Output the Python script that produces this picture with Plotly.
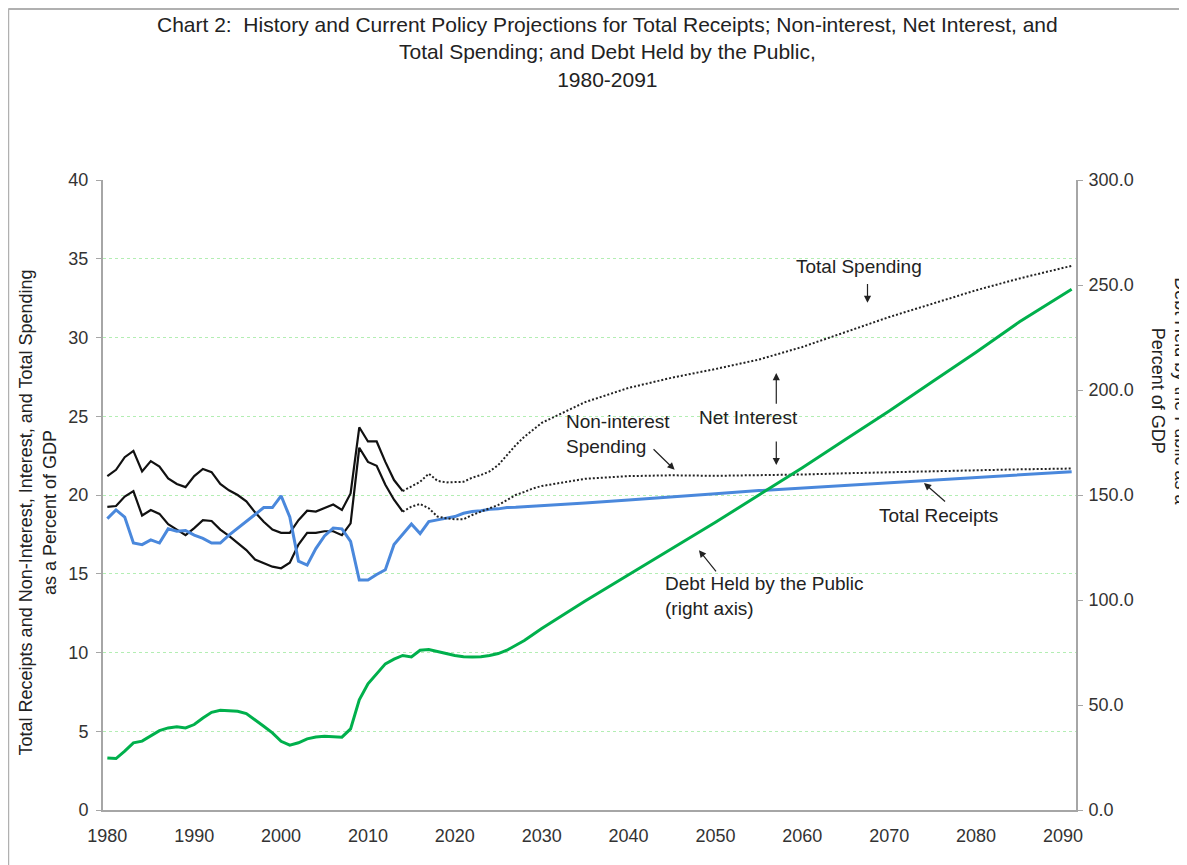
import plotly.graph_objects as go

years_hist = list(range(1980, 2015))
proj_years = list(range(2014, 2031)) + [2035, 2040, 2045, 2050, 2055, 2060, 2065, 2070, 2075, 2080, 2085, 2091]

total_spending_hist = [21.2, 21.6, 22.4, 22.8, 21.5, 22.15, 21.8, 21.05, 20.7, 20.5,
                       21.2, 21.65, 21.45, 20.7, 20.3, 20.0, 19.6, 18.9, 18.3, 17.8,
                       17.6, 17.6, 18.4, 19.0, 18.95, 19.15, 19.4, 19.05, 20.1, 24.3,
                       23.4, 23.4, 22.1, 20.95, 20.25]
noninterest_hist = [19.25, 19.3, 19.9, 20.25, 18.7, 19.05, 18.8, 18.15, 17.8, 17.45,
                    17.9, 18.4, 18.35, 17.8, 17.4, 16.95, 16.5, 15.9, 15.7, 15.45,
                    15.35, 15.7, 16.85, 17.6, 17.6, 17.7, 17.7, 17.45, 18.2, 23.0,
                    22.1, 21.85, 20.65, 19.7, 18.95]
receipts_hist = [18.5, 19.05, 18.6, 16.95, 16.85, 17.15, 16.95, 17.85, 17.7, 17.75,
                 17.45, 17.25, 16.95, 16.95, 17.45, 17.9, 18.3, 18.75, 19.2, 19.2,
                 19.95, 18.6, 15.8, 15.55, 16.6, 17.4, 17.9, 17.85, 17.05, 14.6,
                 14.6, 14.95, 15.25, 16.85, 17.5]
debt_hist = [24.8, 24.5, 28.0, 32.0, 32.8, 35.1, 37.8, 39.1, 39.6, 39.1,
             40.7, 43.8, 46.5, 47.5, 47.3, 47.0, 45.9, 43.0, 39.9, 36.7,
             32.7, 30.9, 32.0, 33.9, 34.8, 35.1, 34.8, 34.7, 38.6, 52.5,
             60.1, 64.7, 69.6, 71.8, 73.6]

# projections (first value is 2014, the last historical year)
total_spending_proj = [20.25, 20.57, 20.84, 21.35, 20.9, 20.8, 20.8, 20.84, 21.1, 21.27,
                       21.5, 21.9, 22.53, 23.16, 23.7, 24.16, 24.58,
                       25.9, 26.8, 27.45, 28.0, 28.6, 29.4, 30.35, 31.3, 32.15, 33.0, 33.75, 34.55]
noninterest_proj = [18.95, 19.26, 19.43, 19.16, 18.63, 18.52, 18.46, 18.46, 18.73, 18.95,
                    19.16, 19.37, 19.68, 20.0, 20.2, 20.42, 20.57,
                    21.03, 21.2, 21.25, 21.22, 21.25, 21.3, 21.38, 21.45, 21.52, 21.58, 21.63, 21.68]
receipts_proj = [17.5, 18.16, 17.55, 18.31, 18.42, 18.52, 18.63, 18.84, 18.95, 19.0,
                 19.09, 19.12, 19.2, 19.22, 19.25, 19.28, 19.3,
                 19.5, 19.68, 19.9, 20.08, 20.28, 20.45, 20.63, 20.8, 20.98, 21.15, 21.3, 21.48]
debt_proj = [73.6, 72.9, 76.1, 76.4, 75.6, 74.5, 73.6, 73.0, 72.8, 73.0,
             73.6, 74.5, 76.1, 78.3, 80.7, 83.6, 86.4,
             99.5, 112.0, 124.5, 137.0, 150.0, 163.0, 176.5, 190.0, 204.0, 218.0, 232.5, 248.0]

x_ticks = list(range(1980, 2091, 10))

FONT = "Liberation Sans, Arial, sans-serif"
GRAY = "#a6a6a6"
TXT = "#222222"

fig = go.Figure()

fig.add_trace(go.Scatter(x=years_hist, y=total_spending_hist, mode="lines",
                         line=dict(color="#111111", width=2.2), name="Total Spending"))
fig.add_trace(go.Scatter(x=years_hist, y=noninterest_hist, mode="lines",
                         line=dict(color="#111111", width=2.2), name="Non-interest Spending"))
fig.add_trace(go.Scatter(x=years_hist + proj_years[1:], y=receipts_hist + receipts_proj[1:], mode="lines",
                         line=dict(color="#4a88dc", width=3), name="Total Receipts"))
fig.add_trace(go.Scatter(x=proj_years, y=total_spending_proj, mode="lines",
                         line=dict(color="#222222", width=2, dash="2px,2px"), name="Total Spending (proj)"))
fig.add_trace(go.Scatter(x=proj_years, y=noninterest_proj, mode="lines",
                         line=dict(color="#222222", width=2, dash="2px,2px"), name="Non-interest (proj)"))
fig.add_trace(go.Scatter(x=years_hist + proj_years[1:], y=debt_hist + debt_proj[1:], mode="lines",
                         line=dict(color="#00b04c", width=3), name="Debt Held by the Public", yaxis="y2"))

annotations = []
# labels
labels = [
    ("Total Spending", 2066.5, 34.5, "center"),
    ("Net Interest", 2053.8, 24.9, "center"),
    ("Non-interest<br>Spending", 2032.6, 23.87, "left"),
    ("Total Receipts", 2075.7, 18.73, "center"),
    ("Debt Held by the Public<br>(right axis)", 2044.0, 13.56, "left"),
]
for txt, x, y, anc in labels:
    annotations.append(dict(text=txt, x=x, y=y, xref="x", yref="y", showarrow=False,
                            xanchor=anc, yanchor="middle", align="left",
                            font=dict(family=FONT, size=19, color=TXT)))
# arrows: (tail x, tail y, head x, head y)
arrows = [
    (2067.5, 33.5, 2067.5, 32.2),
    (2057.0, 25.7, 2057.0, 27.75),
    (2057.0, 23.5, 2057.0, 21.9),
    (2042.7, 23.0, 2045.3, 21.6),
    (2076.6, 19.5, 2074.0, 20.76),
    (2050.2, 15.05, 2048.1, 16.5),
]
for tx, ty, hx, hy in arrows:
    annotations.append(dict(text="", x=hx, y=hy, ax=tx, ay=ty, xref="x", yref="y",
                            axref="x", ayref="y", showarrow=True, arrowhead=2,
                            arrowsize=1.2, arrowwidth=1.2, arrowcolor=TXT))

# title and axis titles
annotations.append(dict(
    text="Chart 2:  History and Current Policy Projections for Total Receipts; Non-interest, Net Interest, and"
         "<br>Total Spending; and Debt Held by the Public,<br>1980-2091",
    x=0.518, y=1.269, xref="paper", yref="paper", xanchor="center", yanchor="top",
    showarrow=False, align="center", font=dict(family=FONT, size=21, color=TXT)))
annotations.append(dict(
    text="Total Receipts and Non-Interest, Interest, and Total Spending<br>as a Percent of GDP",
    x=-0.0674, y=0.473, xref="paper", yref="paper", xanchor="center", yanchor="middle",
    textangle=-90, showarrow=False, font=dict(family=FONT, size=18, color=TXT)))
annotations.append(dict(
    text="Debt Held by the Public as a<br>Percent of GDP",
    x=1.096, y=0.664, xref="paper", yref="paper", xanchor="center", yanchor="middle",
    textangle=90, showarrow=False, font=dict(family=FONT, size=18, color=TXT)))

# the page has an 8px body margin, so the figure is shrunk by that amount
fig.update_layout(
    width=1179, height=857,
    margin=dict(l=95, r=111, t=172, b=55),
    paper_bgcolor="white", plot_bgcolor="white",
    showlegend=False,
    font=dict(family=FONT, size=18, color="#333333"),
    xaxis=dict(range=[1979.5, 2091.5], tickvals=x_ticks, showgrid=False, zeroline=False,
               showline=True, linecolor=GRAY, linewidth=2, ticks="", ticklabelstandoff=8),
    yaxis=dict(range=[0, 40], dtick=5, showgrid=True, gridcolor="#b3eeb3", griddash="dot",
               gridwidth=1, zeroline=False, showline=True, linecolor=GRAY, linewidth=2,
               ticks="outside", ticklen=5, tickcolor=GRAY, ticklabelstandoff=4),
    yaxis2=dict(range=[0, 300], dtick=50, tickformat=".1f", overlaying="y", side="right",
                showgrid=False, zeroline=False, showline=True, linecolor=GRAY, linewidth=2,
                ticks="outside", ticklen=5, tickcolor=GRAY, ticklabelstandoff=2),
    annotations=annotations,
    shapes=[
        dict(type="line", xref="paper", yref="paper", x0=-0.0974, x1=-0.0974, y0=1.2714, y1=-0.1,
             line=dict(color="#b0b0b0", width=2)),
        dict(type="line", xref="paper", yref="paper", x0=-0.0974, x1=1.13, y0=1.2714, y1=1.2714,
             line=dict(color="#b0b0b0", width=2)),
    ],
)

fig.write_html("out.html")
